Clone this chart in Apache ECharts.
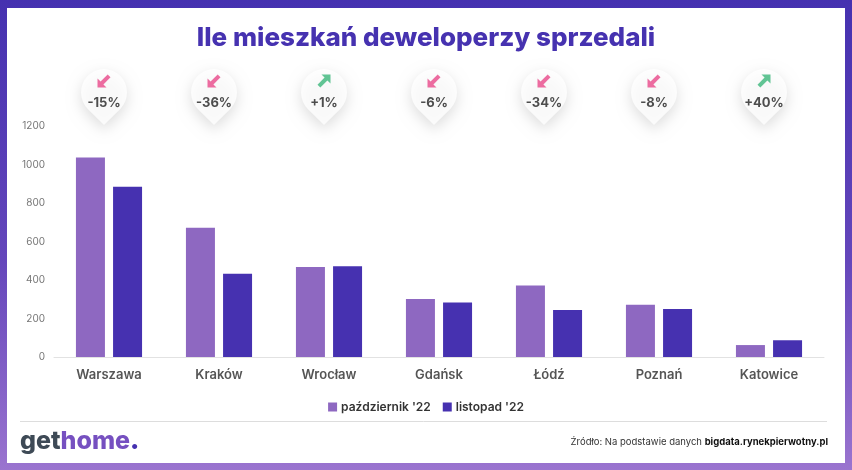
<!DOCTYPE html>
<html>
<head>
<meta charset="utf-8">
<script src="https://cdn.jsdelivr.net/npm/echarts@6/dist/echarts.min.js"></script>
<style>
html,body{margin:0;padding:0;background:#fff;}
#c{width:852px;height:470px;}
</style>
</head>
<body>
<div id="c"></div>
<script>
const categories = ['Warszawa','Kraków','Wrocław','Gdańsk','Łódź','Poznań','Katowice'];
const october = [1037, 672, 468, 301, 372, 271, 62];
const november = [885, 432, 472, 283, 244, 249, 87];
const changePct = [-15, -36, 1, -6, -34, -8, 40];
const seriesNames = ["październik '22", "listopad '22"];
const yTicks = [0, 200, 400, 600, 800, 1000, 1200];

const C_OCT = '#8e68c1';
const C_NOV = '#4631b0';
const FONT = 'Inter, "Noto Sans", sans-serif';

const pinPath = 'path://M0,32 L-16,16.5 A23,23 0 1,1 16,16.5 Z';
const arrowPath = 'path://M3,0 L10,0 L10,7 L7.6,4.6 L2.1,10.1 L-0.1,7.9 L5.4,2.4 Z';

const chart = echarts.init(document.getElementById('c'), null, {renderer:'canvas'});

const pinData = categories.map((c, i) => ({
  value: [i, 33],
  label: {
    formatter: (changePct[i] > 0 ? '+' : '') + changePct[i] + '%'
  }
}));
const arrowData = categories.map((c, i) => ({
  value: [i, 49],
  symbolRotate: changePct[i] > 0 ? 0 : 180,
  itemStyle: { color: changePct[i] > 0 ? '#3bb77a' : '#e8488a' }
}));

chart.setOption({
  animation: false,
  backgroundColor: 'transparent',
  graphic: [
    { type: 'rect', z: -10, shape: { x: 0, y: 0, width: 852, height: 470 },
      style: { fill: new echarts.graphic.LinearGradient(0, 0, 0, 1, [
        { offset: 0, color: '#4531b0' }, { offset: 0.55, color: '#6446bb' }, { offset: 1, color: '#9a74cf' }
      ]) } },
    { type: 'rect', z: -9, shape: { x: 7, y: 8, width: 838, height: 455 }, style: { fill: '#ffffff' } },
    { type: 'line', z: 1, shape: { x1: 20, y1: 421.5, x2: 827, y2: 421.5 }, style: { stroke: '#dddddd', lineWidth: 1 } },
    { type: 'text', left: 20, top: 429, z: 5,
      style: {
        text: '{a|get}{b|home}{c|.}',
        rich: {
          a: { fill: '#3e4a56', fontSize: 25, fontWeight: 800, fontFamily: FONT },
          b: { fill: '#7650c0', fontSize: 25, fontWeight: 800, fontFamily: FONT },
          c: { fill: '#4531b0', fontSize: 25, fontWeight: 900, fontFamily: FONT }
        }
      } },
    { type: 'text', right: 24, top: 437, z: 5,
      style: {
        text: '{r|Źródło: Na podstawie danych }{b|bigdata.rynekpierwotny.pl}',
        rich: {
          r: { fill: '#333333', fontSize: 9.5, fontFamily: FONT, fontWeight: 400 },
          b: { fill: '#111111', fontSize: 9.5, fontFamily: FONT, fontWeight: 700 }
        }
      } }
  ],
  title: {
    text: 'Ile mieszkań deweloperzy sprzedali',
    left: 'center', top: 20,
    textStyle: { color: '#4632b0', fontSize: 26, fontWeight: 800, fontFamily: FONT }
  },
  legend: {
    data: seriesNames,
    left: 'center', top: 396,
    icon: 'rect', itemWidth: 9, itemHeight: 9, itemGap: 12,
    textStyle: { color: '#333', fontSize: 12, fontWeight: 600, fontFamily: FONT, padding: [0, 0, 0, -1] }
  },
  grid: [
    { left: 54, right: 28, top: 126, bottom: 113 },
    { left: 54, right: 28, top: 60, height: 70 }
  ],
  xAxis: [
    { type: 'category', gridIndex: 0, data: categories,
      axisLine: { lineStyle: { color: '#e2e2e2' } }, axisTick: { show: false },
      axisLabel: { margin: 12, color: '#555', fontSize: 13, fontWeight: 600, fontFamily: FONT } },
    { type: 'category', gridIndex: 1, data: categories, show: false }
  ],
  yAxis: [
    { type: 'value', gridIndex: 0, min: 0, max: 1200, interval: 200,
      axisLine: { show: false }, axisTick: { show: false }, splitLine: { show: false },
      axisLabel: { margin: 9, color: '#777', fontSize: 10, fontFamily: FONT,
        formatter: v => yTicks.includes(v) ? String(v) : '' } },
    { type: 'value', gridIndex: 1, min: 0, max: 70, show: false }
  ],
  series: [
    { name: seriesNames[0], type: 'bar', data: october, itemStyle: { color: C_OCT },
      barWidth: 29, barGap: '28%' },
    { name: seriesNames[1], type: 'bar', data: november, itemStyle: { color: C_NOV },
      barWidth: 29, barGap: '28%' },
    { type: 'scatter', xAxisIndex: 1, yAxisIndex: 1, data: pinData,
      symbol: pinPath, symbolSize: [46, 56], symbolOffset: [-5, 0], silent: true,
      itemStyle: { color: '#ffffff', shadowBlur: 14, shadowColor: 'rgba(0,0,0,0.16)', shadowOffsetY: 5 },
      label: { show: true, position: 'inside', offset: [0, 6], color: '#222', fontSize: 13,
        fontWeight: 700, fontFamily: FONT }, z: 3 },
    { type: 'scatter', xAxisIndex: 1, yAxisIndex: 1, data: arrowData,
      symbol: arrowPath, symbolSize: [13, 13], symbolOffset: [-5, 0], silent: true, z: 4 }
  ]
});
</script>
</body>
</html>
